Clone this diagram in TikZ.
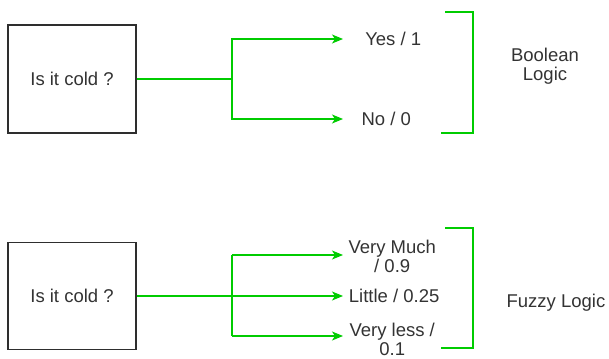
\documentclass[tikz,border=0pt]{standalone}
\usepackage{fontspec}
\setmainfont{Liberation Sans}
\usetikzlibrary{arrows.meta}
\definecolor{txt}{RGB}{51,51,51}
\definecolor{grn}{RGB}{0,204,0}
\tikzset{
  x=1pt, y=-1pt,
  fnt/.style={font=\fontsize{18.5}{19}\selectfont},
  qbox/.style={draw=txt!90!black, line width=1.3pt, minimum width=128pt, minimum height=108pt, inner sep=0pt, text=txt, fnt},
  outtext/.style={anchor=west, inner sep=0pt, text=txt, align=center, fnt},
  lbl/.style={text=txt, align=center, inner sep=0pt, fnt},
  conn/.style={draw=grn, line width=1.5pt},
  arr/.style={conn, -{Stealth[length=11pt, width=9pt, inset=3pt]}},
  brk/.style={draw=grn, line width=1.5pt},
}
\begin{document}
\begin{tikzpicture}
\useasboundingbox (0,0) rectangle (609,358);
% Boolean
\node[qbox] (q1) at (72,79) {Is it cold ?};
\node[outtext, minimum width=100pt] (yes) at (343,39) {Yes / 1};
\node[outtext, minimum width=86pt] (no) at (343,119) {No / 0};
\coordinate (j1) at (232,79);
\draw[conn] (q1.east) -- (j1);
\draw[arr] (j1) |- (yes.west);
\draw[arr] (j1) |- (no.west);
\draw[brk] (445,12) -- (473,12) -- (473,133) -- (441,133);
\node[lbl] (bool) at (545,66.5) {Boolean\\Logic};
% Fuzzy
\node[qbox, minimum height=107pt] (q2) at (72,296) {Is it cold ?};
\node[outtext, minimum width=98pt] (much) at (343,256) {Very Much\\/ 0.9};
\node[outtext, minimum width=102pt] (little) at (343,296) {Little / 0.25};
\node[outtext, minimum width=98pt] (less) at (343,339) {Very less /\\0.1};
\coordinate (jt) at (232,255);
\coordinate (jb) at (232,336);
\draw[arr] (q2.east) -- (little.west);
\draw[conn] (jt) -- (jb);
\draw[arr] (jt) -- (jt -| much.west);
\draw[arr] (jb) -- (jb -| less.west);
\draw[brk] (445,228) -- (473,228) -- (473,348) -- (441,348);
\node[lbl] (fuzzy) at (556,303) {Fuzzy Logic};
\end{tikzpicture}
\end{document}
